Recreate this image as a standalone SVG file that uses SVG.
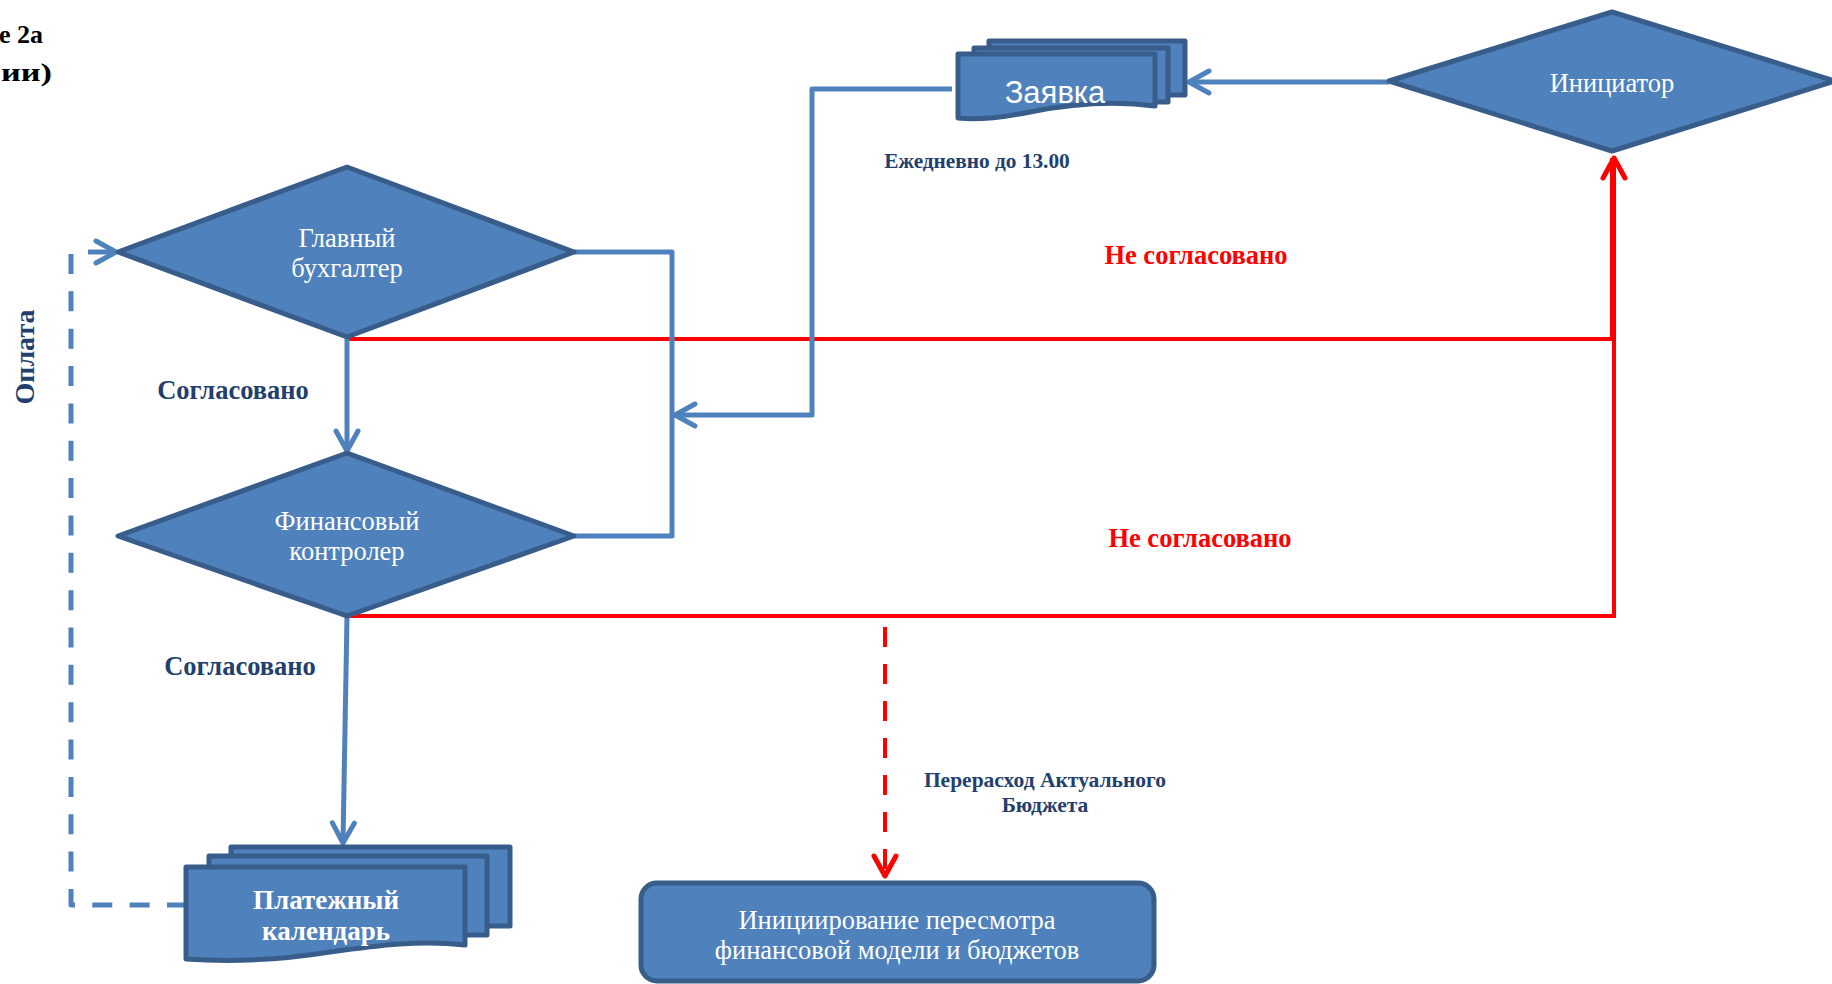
<svg xmlns="http://www.w3.org/2000/svg" width="1832" height="984" viewBox="0 0 1832 984">
<style>
.shape{fill:#4f81bd;stroke:#385d8a;stroke-width:5;stroke-linejoin:round}
.wt{fill:#ffffff;font-family:"Liberation Serif",serif;font-size:26.5px;text-anchor:middle}
.wtb{fill:#ffffff;font-family:"Liberation Serif",serif;font-size:27px;font-weight:bold;text-anchor:middle}
.lbl{fill:#223f6e;font-family:"Liberation Serif",serif;font-weight:bold;text-anchor:middle}
.red{fill:#ff0000;font-family:"Liberation Serif",serif;font-weight:bold;font-size:26.5px;text-anchor:middle}
.cb{fill:none;stroke:#4f81bd;stroke-width:5;stroke-linejoin:round}
.cr{fill:none;stroke:#ff0000;stroke-width:4}
</style>
<defs>
<marker id="ab" markerUnits="userSpaceOnUse" viewBox="0 0 30 30" markerWidth="30" markerHeight="30" refX="26" refY="15" orient="auto">
<path d="M6,4 L26,15 L6,26" fill="none" stroke="#4f81bd" stroke-width="5" stroke-linecap="round" stroke-linejoin="round"/>
</marker>
<marker id="ar" markerUnits="userSpaceOnUse" viewBox="0 0 30 30" markerWidth="30" markerHeight="30" refX="26" refY="15" orient="auto">
<path d="M6,4 L26,15 L6,26" fill="none" stroke="#ff0000" stroke-width="5" stroke-linecap="round" stroke-linejoin="round"/>
</marker>
</defs>
<rect width="1832" height="984" fill="#ffffff"/>
<g id="title" font-family="Liberation Serif, serif" font-weight="bold" font-size="26" fill="#000000">
<text x="43" y="43" text-anchor="end">е 2а</text>
<text x="1" y="81" textLength="51" lengthAdjust="spacingAndGlyphs">ии)</text>
</g>
<g id="connectors">
<path class="cr" d="M347,339 H1612 V158"/>
<path class="cr" d="M347,616 H1614 V158" marker-end="url(#ar)"/>
<path class="cr" d="M885,627 V876" stroke-width="5" stroke-dasharray="20 17" marker-end="url(#ar)"/>
<path class="cb" d="M574,252 H672 V536 H574"/>
<path class="cb" d="M952,89 H812 V415 H675" stroke-width="6" marker-end="url(#ab)"/>
<path class="cb" d="M1389,82 H1189" marker-end="url(#ab)"/>
<path class="cb" d="M347,337 V451" marker-end="url(#ab)"/>
<path class="cb" d="M347,616 L343,843" marker-end="url(#ab)"/>
<path class="cb" d="M187,905 H71 V254" stroke-dasharray="20 17.35"/>
<path class="cb" d="M88,252 H116" marker-end="url(#ab)"/>
</g>
<g id="n-initiator">
<polygon class="shape" points="1389,81 1612,12 1835,81 1612,151"/>
<text class="wt" x="1612" y="92" font-size="28">Инициатор</text>
</g>
<g id="n-zayavka">
<rect class="shape" x="989" y="41" width="196" height="54"/>
<rect class="shape" x="974" y="48" width="194" height="54"/>
<path class="shape" d="M958,54 H1155 V106 C1110,100 1070,104 1030,112 C1000,118 975,120 958,118 Z"/>
<text x="1055" y="103" fill="#ffffff" font-family="Liberation Sans, sans-serif" font-size="31" text-anchor="middle">Заявка</text>
</g>
<g id="n-glavbuh">
<polygon class="shape" points="118,252 347,167 574,252 347,337"/>
<text class="wt" x="347" y="247">Главный</text>
<text class="wt" x="347" y="277">бухгалтер</text>
</g>
<g id="n-fincontrol">
<polygon class="shape" points="118,536 347,453 574,536 347,616"/>
<text class="wt" x="347" y="530">Финансовый</text>
<text class="wt" x="347" y="560">контролер</text>
</g>
<g id="n-platezh">
<rect class="shape" x="231" y="847" width="279" height="79"/>
<rect class="shape" x="209" y="856" width="278" height="79"/>
<path class="shape" d="M186,867 H465 V945 C420,940 380,945 330,952 C280,960 230,962 186,959 Z"/>
<text class="wtb" x="326" y="909">Платежный</text>
<text class="wtb" x="326" y="940">календарь</text>
</g>
<g id="n-revision">
<rect class="shape" x="641" y="883" width="513" height="98" rx="16"/>
<text class="wt" x="897" y="929" font-size="27.2">Инициирование пересмотра</text>
<text class="wt" x="897" y="959" font-size="27.2">финансовой модели и бюджетов</text>
</g>
<g id="labels">
<text class="lbl" x="977" y="168" font-size="21.3">Ежедневно до 13.00</text>
<text class="lbl" x="233" y="399" font-size="26.5">Согласовано</text>
<text class="lbl" x="240" y="675" font-size="26.5">Согласовано</text>
<text class="lbl" font-size="28" transform="translate(34,357) rotate(-90)">Оплата</text>
<text class="red" x="1196" y="264">Не согласовано</text>
<text class="red" x="1200" y="547">Не согласовано</text>
<text class="lbl" x="1045" y="787" font-size="21.5">Перерасход Актуального</text>
<text class="lbl" x="1045" y="812" font-size="21.5">Бюджета</text>
</g>
</svg>
